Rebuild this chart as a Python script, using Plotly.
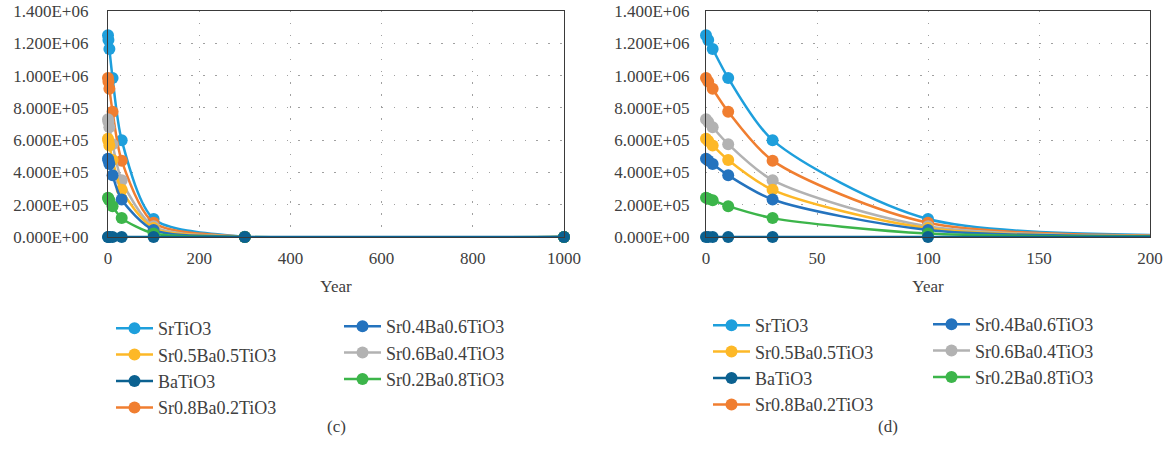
import plotly.graph_objects as go

years = [0, 1, 3, 10, 30, 100, 300, 1000]
series_names = ["SrTiO3", "Sr0.8Ba0.2TiO3", "Sr0.6Ba0.4TiO3", "Sr0.5Ba0.5TiO3",
                "Sr0.4Ba0.6TiO3", "Sr0.2Ba0.8TiO3", "BaTiO3"]
SrTiO3 = [1.250e6, 1.220e6, 1.165e6, 0.985e6, 0.600e6, 0.112e6, 900, 0]
Sr08Ba02 = [0.985e6, 0.962e6, 0.918e6, 0.776e6, 0.473e6, 0.088e6, 700, 0]
Sr06Ba04 = [0.730e6, 0.713e6, 0.680e6, 0.575e6, 0.352e6, 0.066e6, 520, 0]
Sr05Ba05 = [0.608e6, 0.594e6, 0.567e6, 0.477e6, 0.292e6, 0.055e6, 430, 0]
Sr04Ba06 = [0.485e6, 0.474e6, 0.452e6, 0.382e6, 0.232e6, 0.044e6, 350, 0]
Sr02Ba08 = [0.243e6, 0.237e6, 0.227e6, 0.191e6, 0.117e6, 0.022e6, 170, 0]
BaTiO3 = [0, 0, 0, 0, 0, 0, 0, 0]
series_values = [SrTiO3, Sr08Ba02, Sr06Ba04, Sr05Ba05, Sr04Ba06, Sr02Ba08, BaTiO3]
colors = ["#1E9FDC", "#F07E30", "#B2B2B2", "#FDB827", "#2473BE", "#3CB54A", "#0B6190"]

# legend layout: column 1 / column 2 membership and order
col1 = ["SrTiO3", "Sr0.5Ba0.5TiO3", "BaTiO3", "Sr0.8Ba0.2TiO3"]
col2 = ["Sr0.4Ba0.6TiO3", "Sr0.6Ba0.4TiO3", "Sr0.2Ba0.8TiO3"]

y_tickvals = [0, 2e5, 4e5, 6e5, 8e5, 1.0e6, 1.2e6, 1.4e6]
y_ticktext = ["0.000E+00", "2.000E+05", "4.000E+05", "6.000E+05", "8.000E+05",
              "1.000E+06", "1.200E+06", "1.400E+06"]
x_left_ticks = [0, 200, 400, 600, 800, 1000]
x_right_ticks = [0, 50, 100, 150, 200]

FONT = "Liberation Serif"
TXT = "#404040"
W, H = 1167, 458

fig = go.Figure()

panels = [("x", "y", "legend", "legend2", "L"), ("x2", "y2", "legend3", "legend4", "R")]
for xa, ya, lg1, lg2, tag in panels:
    for name, vals, col in zip(series_names, series_values, colors):
        if name in col1:
            lg, rank = lg1, col1.index(name)
        else:
            lg, rank = lg2, col2.index(name)
        fig.add_trace(go.Scatter(
            x=years, y=vals, name=name, xaxis=xa, yaxis=ya,
            mode="lines+markers",
            line=dict(color=col, width=2.5, shape="spline", smoothing=0.75),
            marker=dict(color=col, size=12),
            cliponaxis=False,
            legend=lg, legendrank=rank + 1, legendgroup=tag + name,
        ))

def px_x(p):
    return p / W

def px_y(p):
    return 1 - p / H

grid = dict(showgrid=True, gridcolor="#A0A0A0", gridwidth=1.4, griddash="1.4px,10.5px")
axis_common = dict(showline=True, linecolor="#3A3A3A", linewidth=1.3, mirror=True,
                   zeroline=False, ticks="", ticklabeloverflow="allow",
                   tickfont=dict(family=FONT, size=17, color=TXT))
xtitle = dict(text="Year", font=dict(family=FONT, size=17, color=TXT), standoff=13)

fig.update_layout(
    width=W, height=H,
    margin=dict(l=0, r=0, t=0, b=0, autoexpand=False),
    paper_bgcolor="white", plot_bgcolor="white",
    font=dict(family=FONT, size=17, color=TXT),
    xaxis=dict(domain=[px_x(108), px_x(564)], range=[0, 1000], tickvals=x_left_ticks,
               title=xtitle, ticklabelstandoff=5, anchor="y", **grid, **axis_common),
    yaxis=dict(domain=[px_y(237), px_y(11)], range=[0, 1.4e6], tickvals=y_tickvals,
               ticktext=y_ticktext, anchor="x", ticklabelstandoff=15, **grid, **axis_common),
    xaxis2=dict(domain=[px_x(706), px_x(1150)], range=[0, 200], tickvals=x_right_ticks,
                title=xtitle, ticklabelstandoff=5, anchor="y2", **grid, **axis_common),
    yaxis2=dict(domain=[px_y(237), px_y(11)], range=[0, 1.4e6], tickvals=y_tickvals,
                ticktext=y_ticktext, anchor="x2", ticklabelstandoff=12, **grid, **axis_common),
)

leg_common = dict(orientation="v", xanchor="left", yanchor="top", bgcolor="rgba(0,0,0,0)",
                  font=dict(family=FONT, size=18, color=TXT), itemwidth=37,
                  traceorder="grouped", tracegroupgap=0)
fig.update_layout(
    legend=dict(x=px_x(111), y=px_y(310), **leg_common),
    legend2=dict(x=px_x(339), y=px_y(308), **leg_common),
    legend3=dict(x=px_x(708), y=px_y(307), **leg_common),
    legend4=dict(x=px_x(928), y=px_y(306), **leg_common),
)

fig.add_annotation(text="(c)", x=px_x(336), y=px_y(426), xref="paper", yref="paper",
                   xanchor="center", yanchor="middle",
                   showarrow=False, font=dict(family=FONT, size=17, color=TXT))
fig.add_annotation(text="(d)", x=px_x(888), y=px_y(426), xref="paper", yref="paper",
                   xanchor="center", yanchor="middle",
                   showarrow=False, font=dict(family=FONT, size=17, color=TXT))

# remove the default page margin so the figure starts at the window's corner
fig.write_html("out.html", config={"displayModeBar": False},
               post_script="document.body.style.margin='0px';")
